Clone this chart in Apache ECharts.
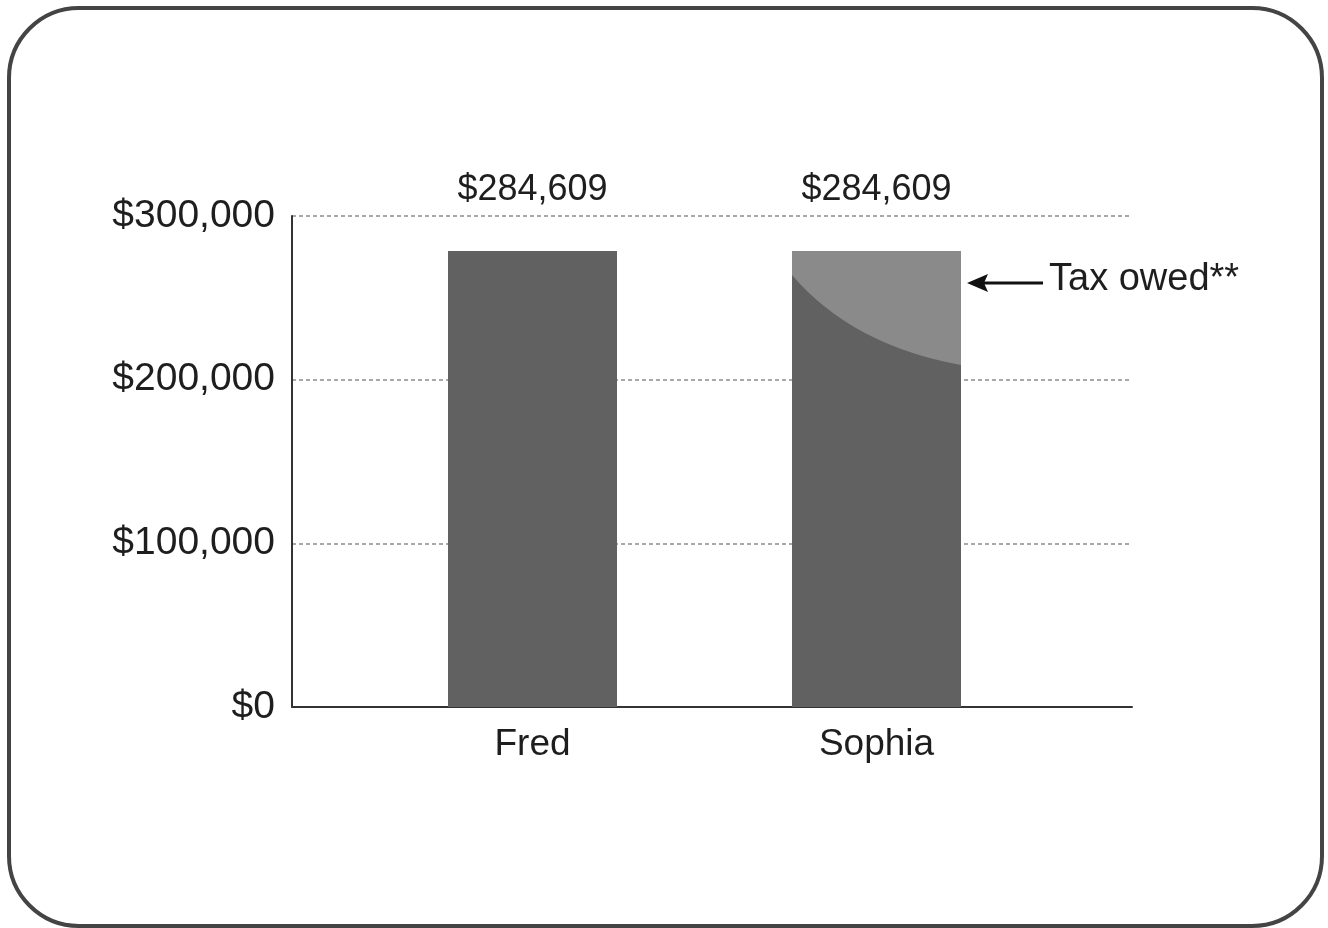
<!DOCTYPE html>
<html>
<head>
<meta charset="utf-8">
<script src="https://cdn.jsdelivr.net/npm/echarts@6/dist/echarts.min.js"></script>
<style>
html,body{margin:0;padding:0;background:#fff;}
#chart{width:1328px;height:928px;}
</style>
</head>
<body>
<div id="chart"></div>
<script>
// ---- data ----
const categories = ['Fred', 'Sophia'];
const barValues = [278600, 278600];          // drawn bar heights
const barLabels = ['$284,609', '$284,609'];  // labels printed above the bars
const taxCategory = 'Sophia';
const taxCurveStart = 264000;   // left edge of tax boundary
const taxCurveEnd = 209000;     // right edge of tax boundary
const yTicks = [0, 100000, 200000, 300000];
const yTickLabels = ['$0', '$100,000', '$200,000', '$300,000'];
const annotationText = 'Tax owed**';

const FONT = '"Liberation Sans", Arial, sans-serif';
const TXT = '#1e1e1e';
const DARK = '#616161';
const LIGHT = '#8a8a8a';

const chart = echarts.init(document.getElementById('chart'), null, {renderer: 'canvas'});

const option = {
  backgroundColor: '#fff',
  animation: false,
  grid: [
    {left: 292, right: 196, top: 216, bottom: 221},
    {left: 360.5, width: 688, top: 216, bottom: 221}
  ],
  xAxis: [
    {gridIndex: 0, type: 'value', min: 0, max: 1,
     axisLine: {show: true, lineStyle: {color: '#333', width: 2}},
     axisTick: {show: false}, axisLabel: {show: false}, splitLine: {show: false}},
    {gridIndex: 1, type: 'category', data: categories,
     axisLine: {show: false}, axisTick: {show: false},
     axisLabel: {margin: 19, fontSize: 37, fontFamily: FONT, color: TXT}}
  ],
  yAxis: [
    {gridIndex: 0, type: 'value', min: 0, max: 300000, interval: 100000,
     axisLine: {show: true, lineStyle: {color: '#333', width: 2}},
     axisTick: {show: false},
     axisLabel: {margin: 17, fontSize: 39, fontFamily: FONT, color: TXT,
       verticalAlign: 'middle', padding: [9, 0, 0, 0],
       formatter: v => yTickLabels[yTicks.indexOf(v)]},
     splitLine: {show: true, lineStyle: {color: '#a8a8a8', width: 2, type: [4, 3]}}},
    {gridIndex: 1, type: 'value', min: 0, max: 300000, show: false}
  ],
  series: [
    {type: 'bar', xAxisIndex: 1, yAxisIndex: 1, data: barValues, barWidth: 169,
     itemStyle: {color: DARK},
     label: {show: true, position: 'top', distance: 43, fontSize: 36, fontFamily: FONT, color: TXT,
       formatter: p => barLabels[p.dataIndex]},
     z: 3},
    {type: 'custom', xAxisIndex: 1, yAxisIndex: 1,
     data: [[categories.indexOf(taxCategory), barValues[categories.indexOf(taxCategory)], taxCurveStart, taxCurveEnd]],
     renderItem: function (params, api) {
       const c = api.value(0);
       const top = api.coord([c, api.value(1)]);
       const s = api.coord([c, api.value(2)]);
       const e = api.coord([c, api.value(3)]);
       const w = 169;
       const L = top[0] - w / 2, R = top[0] + w / 2;
       const h = e[1] - s[1];
       const cx = L + 0.355 * w, cy = s[1] + 0.78 * h;
       const path = 'M' + L + ' ' + top[1] + ' L' + R + ' ' + top[1] + ' L' + R + ' ' + e[1] +
         ' Q' + cx + ' ' + cy + ' ' + L + ' ' + s[1] + ' Z';
       return {type: 'path', shape: {pathData: path}, style: {fill: LIGHT}};
     },
     z: 4}
  ],
  graphic: [
    {type: 'rect', shape: {x: 9, y: 8, width: 1313, height: 918, r: 70},
     style: {fill: 'none', stroke: '#444', lineWidth: 4}, z: 100},
    {type: 'line', shape: {x1: 980, y1: 283, x2: 1043, y2: 283},
     style: {stroke: '#111', lineWidth: 3}, z: 100},
    {type: 'polygon', shape: {points: [[967, 283], [988, 274], [984, 283], [988, 292]]},
     style: {fill: '#111'}, z: 100},
    {type: 'text', x: 1049, y: 280,
     style: {text: annotationText, font: '38px ' + FONT, fill: TXT, textVerticalAlign: 'middle', textAlign: 'left'}, z: 100}
  ]
};
chart.setOption(option);
</script>
</body>
</html>
